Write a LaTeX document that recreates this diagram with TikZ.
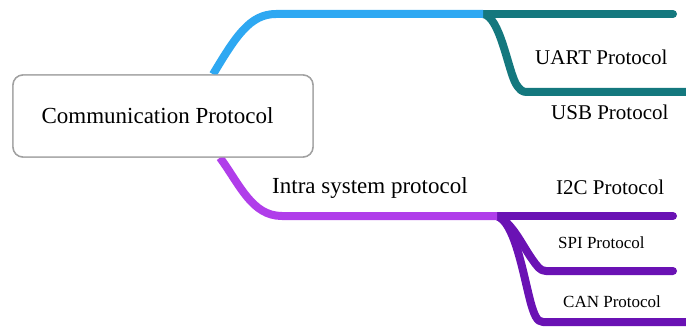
\documentclass[tikz,border=0pt]{standalone}
\usepackage{fontspec}
\setmainfont{Liberation Serif}
\definecolor{skyline}{HTML}{2EA8F2}
\definecolor{tealline}{HTML}{14787E}
\definecolor{lilacline}{HTML}{B03EEA}
\definecolor{violetline}{HTML}{6A12B4}
\definecolor{boxedge}{HTML}{A0A0A0}
\tikzset{
  rootbox/.style={draw=boxedge, line width=1.4pt, rounded corners=10pt, fill=white,
    minimum width=300pt, minimum height=82pt, inner sep=0pt,
    font=\fontsize{23}{27}\selectfont},
  biglbl/.style={inner sep=0pt, anchor=west, font=\fontsize{23}{27}\selectfont},
  midlbl/.style={inner sep=0pt, anchor=west, font=\fontsize{21}{25}\selectfont},
  smalllbl/.style={inner sep=0pt, anchor=west, font=\fontsize{17}{20}\selectfont},
  wire/.style={line width=8pt, line cap=round, line join=round},
}
\begin{document}
\begin{tikzpicture}[x=1pt, y=-1pt]
\useasboundingbox (0,0) rectangle (686,329);

% upper branch: sky-blue trunk and teal leaves
\coordinate (bj) at (483,14);
\coordinate (uartend) at (673,14);
\coordinate (usbknee) at (527,92);
\coordinate (usbend) at (690,92);

% lower branch: lilac trunk and violet leaves
\coordinate (pj) at (497,216);
\coordinate (i2cend) at (673,216);
\coordinate (spiknee) at (546,271);
\coordinate (spiend) at (673,271);
\coordinate (canknee) at (543,322);
\coordinate (canend) at (690,322);

\node[rootbox] (root) at (163,116) {Communication Protocol\hspace*{11pt}};

% teal leaves
\draw[wire, tealline] (bj) -- (uartend);
\draw[wire, tealline, line cap=butt] (bj) .. controls (500,16) and (508,70) .. (516,84)
  .. controls (520,90) and (522,92) .. (usbknee) -- (usbend);

% violet leaves
\draw[wire, violetline] (pj) -- (i2cend);
\draw[wire, violetline] (pj) .. controls (512,222) and (522,245) .. (532,259)
  .. controls (537,266) and (540,271) .. (spiknee) -- (spiend);
\draw[wire, violetline, line cap=butt] (pj) .. controls (514,222) and (522,268) .. (530,300)
  .. controls (534,315) and (537,322) .. (canknee) -- (canend);

% trunks from the root box
\draw[wire, skyline, line cap=butt] ([xshift=50pt]root.north) .. controls (236,36) and (250,14) .. (276,14) -- (bj);
\draw[wire, lilacline, line cap=butt] ([xshift=57pt]root.south) .. controls (240,185) and (252,216) .. (282,216) -- (pj);

% redraw box over trunk ends
\node[rootbox] at (root.center) {Communication Protocol\hspace*{11pt}};

% leaf labels
\node[midlbl] (uart) at (535,57) {UART Protocol};
\node[midlbl] (usb) at (551,112) {USB Protocol};
\node[biglbl] (intra) at (272,188) {Intra system protocol};
\node[midlbl] (i2c) at (556,187) {I2C Protocol};
\node[smalllbl] (spi) at (558,243) {SPI Protocol};
\node[smalllbl] (can) at (563,302) {CAN Protocol};
\end{tikzpicture}
\end{document}
